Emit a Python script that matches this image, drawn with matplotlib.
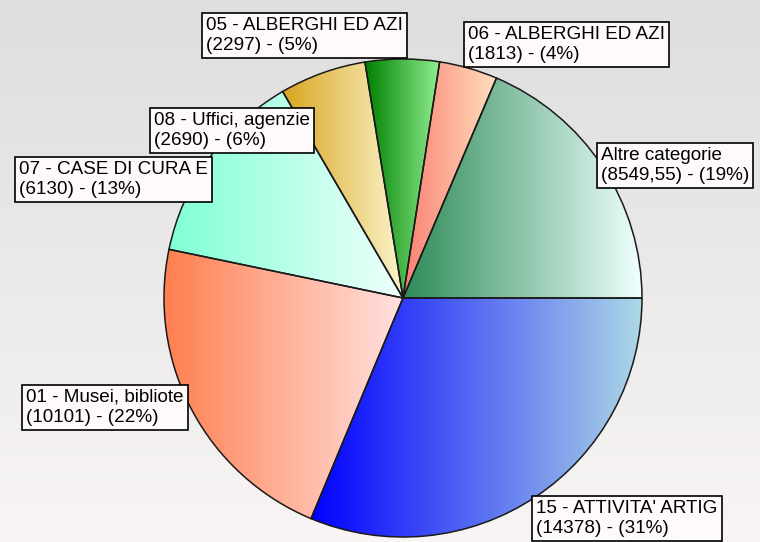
import numpy as np
import matplotlib
matplotlib.use("Agg")
from matplotlib import pyplot as plt
from matplotlib.colors import LinearSegmentedColormap

# data (clockwise from 3 o'clock)
names = ["15 - ATTIVITA' ARTIG", "01 - Musei, bibliote", "07 - CASE DI CURA E",
         "08 - Uffici, agenzie", "05 - ALBERGHI ED AZI", "06 - ALBERGHI ED AZI",
         "Altre categorie"]
values = [14378, 10101, 6130, 2690, 2297, 1813, 8549.55]

# gradient colours, left -> right
colLeft = ["#0000ff", "#ff7f50", "#7fffd4", "#daa520", "#008000", "#fa8072", "#2e8b57"]
colRight = ["#add8e6", "#ffe2e0", "#f0fffc", "#faf5cc", "#90ee90", "#ffdfbd", "#f0ffff"]

# label box top-left corners in pixels (layout)
labelPos = [(531, 495), (21, 384), (14, 156), (149, 107), (201, 12), (463, 21), (596, 142)]

W, H = 760, 542
cx, cy, R = 403, H - 298, 239

fig = plt.figure(figsize=(W / 100, H / 100), dpi=100)
ax = fig.add_axes([0, 0, 1, 1])

# background, darker at the top
bg = np.linspace(0, 1, 256).reshape(-1, 1)
bgCmap = LinearSegmentedColormap.from_list("bg", ["#dedede", "#f8f5f4"])
ax.imshow(bg, extent=[0, W, 0, H], cmap=bgCmap, aspect="auto", zorder=0)

wedges, _ = ax.pie(values, startangle=0, counterclock=False, center=(cx, cy), radius=R,
                   wedgeprops=dict(edgecolor="#1a1a1a", linewidth=1.1, facecolor="none"),
                   frame=True)

grad = np.linspace(0, 1, 256).reshape(1, -1)
for w, c1, c2 in zip(wedges, colLeft, colRight):
    w.set_facecolor("none")
    w.set_zorder(3)
    ang = np.radians(np.linspace(w.theta1, w.theta2, 200))
    xs = np.concatenate([[cx], cx + R * np.cos(ang)])
    ys = np.concatenate([[cy], cy + R * np.sin(ang)])
    cm = LinearSegmentedColormap.from_list("g", [c1, c2])
    im = ax.imshow(grad, extent=[xs.min(), xs.max(), ys.min(), ys.max()], cmap=cm,
                   aspect="auto", zorder=2)
    im.set_clip_path(w)

total = sum(values)
for name, v, (bx, by) in zip(names, values, labelPos):
    vs = str(int(v)) if float(v).is_integer() else ("%.2f" % v).replace(".", ",")
    pct = int(round(v / total * 100))
    s = "%s\n(%s) - (%d%%)" % (name, vs, pct)
    ax.text(bx + 5, H - by - 5, s, fontsize=13.6, family="Liberation Sans", ha="left", va="top",
            linespacing=1.2, zorder=5,
            bbox=dict(boxstyle="square,pad=0.22", fc="#fffafa", ec="black", lw=1.2))

ax.set_xlim(0, W)
ax.set_ylim(0, H)
ax.set_aspect("auto")
ax.axis("off")
fig.savefig("out.png", dpi=100)
